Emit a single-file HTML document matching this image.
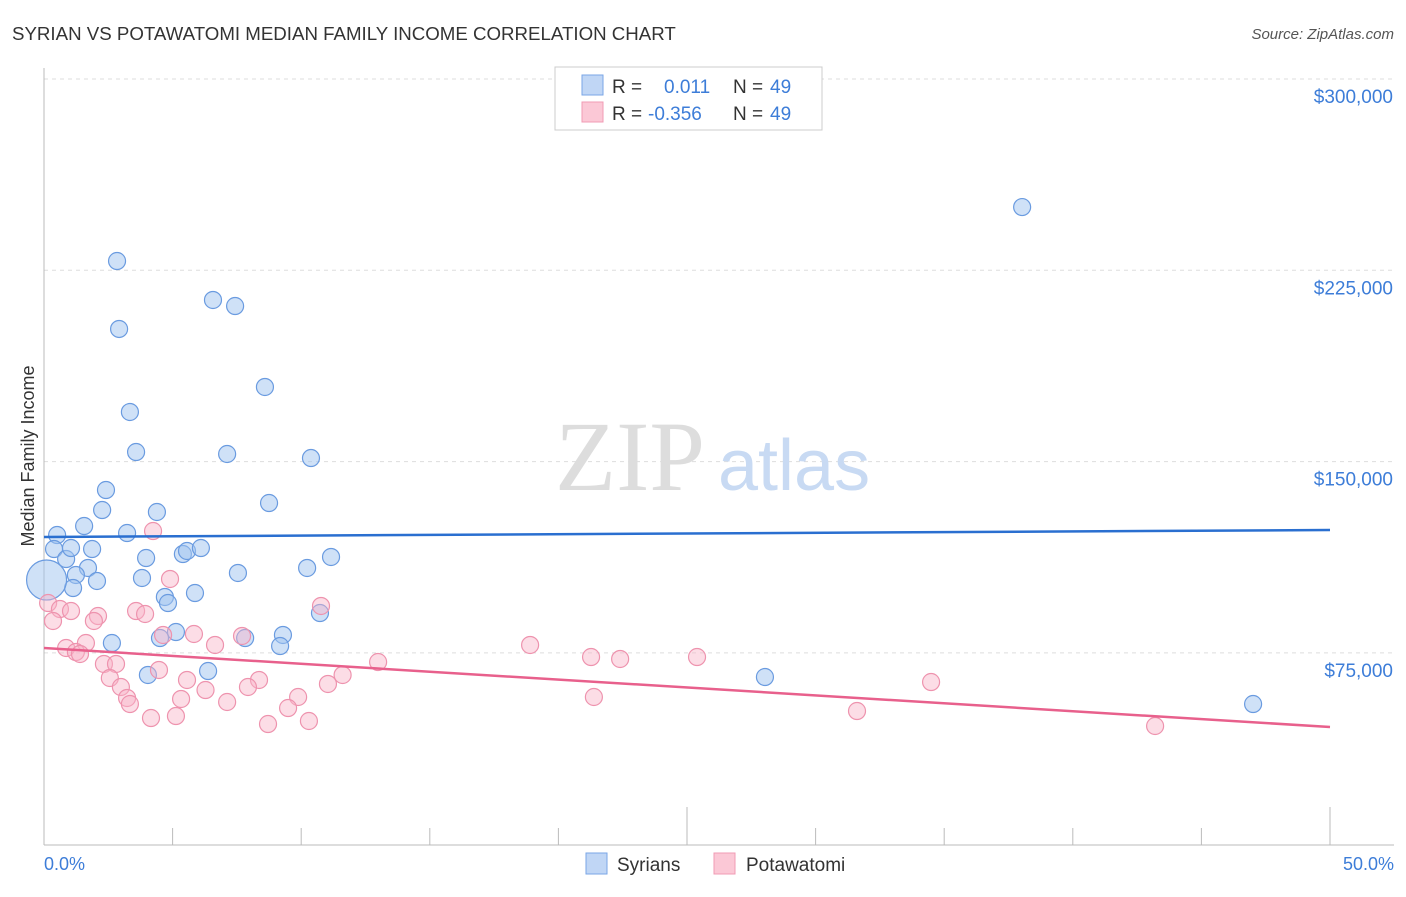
<!DOCTYPE html>
<html><head><meta charset="utf-8"><style>
body{margin:0;background:#fff;font-family:"Liberation Sans",sans-serif}
svg text{font-family:"Liberation Sans",sans-serif}
</style></head><body>
<svg width="1406" height="892" viewBox="0 0 1406 892">
<text x="12" y="40" font-size="18.7" fill="#333">SYRIAN VS POTAWATOMI MEDIAN FAMILY INCOME CORRELATION CHART</text>
<text x="1394" y="39" font-size="15" fill="#555" text-anchor="end" font-style="italic">Source: ZipAtlas.com</text>
<g id="grid"></g>
<g id="axes"></g>
<text x="555" y="490" font-size="100" fill="#ddd" style="font-family:'Liberation Serif',serif">ZIP</text>
<text x="718" y="490" font-size="72" fill="#c8daf3">atlas</text>
<g id="pts"></g>
<g id="lines"></g>
<text transform="translate(34,456) rotate(-90)" font-size="18" fill="#333" text-anchor="middle">Median Family Income</text>
<text x="44" y="870" font-size="18" fill="#3d7dd8">0.0%</text>
<text x="1394" y="870" font-size="18" fill="#3d7dd8" text-anchor="end">50.0%</text>
<g>
<rect x="555" y="67" width="267" height="63" fill="#fff" stroke="#ccc"/>
<rect x="582" y="75" width="21" height="20" fill="#c0d6f5" stroke="#7aa6e6"/>
<rect x="582" y="102" width="21" height="20" fill="#fbc8d6" stroke="#f09bb4"/>
<text x="612" y="93" font-size="19" fill="#333">R = </text><text x="664" y="93" font-size="19" fill="#3d7dd8">0.011</text>
<text x="733" y="93" font-size="19" fill="#333">N = </text><text x="770" y="93" font-size="19" fill="#3d7dd8">49</text>
<text x="612" y="120" font-size="19" fill="#333">R = </text><text x="648" y="120" font-size="19" fill="#3d7dd8">-0.356</text>
<text x="733" y="120" font-size="19" fill="#333">N = </text><text x="770" y="120" font-size="19" fill="#3d7dd8">49</text>
</g>
<g>
<rect x="586" y="853" width="21" height="21" fill="#c0d6f5" stroke="#7aa6e6"/>
<text x="617" y="871" font-size="19" fill="#333">Syrians</text>
<rect x="714" y="853" width="21" height="21" fill="#fbc8d6" stroke="#f09bb4"/>
<text x="746" y="871" font-size="19" fill="#333">Potawatomi</text>
</g>
</svg>
<script>
const yTicks=[75000,150000,225000,300000];
const yTickLabels=["$75,000","$150,000","$225,000","$300,000"];
const blueX=[2.84,2.92,6.57,7.43,38.03,8.59,3.34,3.58,7.12,10.38,2.41,8.75,2.26,4.39,1.56,0.51,3.23,0.39,1.87,0.86,3.97,5.40,5.56,6.10,11.16,1.71,1.24,3.81,7.54,10.23,2.06,1.13,5.87,4.70,4.82,10.73,5.13,4.51,9.29,7.82,2.64,9.18,6.38,4.04,28.03,47.01,1.05,0.1];
const blueY=[228640,202000,213360,211000,249800,179250,169450,153760,152980,151400,138860,133760,131020,130240,124750,121220,122000,115730,115730,111810,112200,113770,114950,116120,112600,108290,105550,104370,106330,108290,103190,100440,98480,96920,94560,90640,83190,80840,82020,80840,78880,77700,67900,66340,65550,54960,116120,103580];
const pinkX=[4.24,4.90,0.16,0.62,1.05,2.10,3.58,3.93,10.77,0.35,1.94,5.83,4.63,7.70,6.65,1.63,0.86,1.24,1.40,18.90,21.27,22.40,25.39,12.99,2.33,2.80,4.47,2.56,11.61,8.36,5.56,11.04,34.49,2.99,7.93,6.28,3.23,5.33,9.88,21.38,3.34,7.12,9.49,31.61,4.16,5.13,8.71,10.30,43.20];
const pinkY=[122790,103980,94560,92210,91420,89460,91420,90250,93390,87510,87510,82410,82020,81630,78100,78880,76920,75350,74570,78100,73390,72610,73390,71430,70650,70650,68300,65160,66340,64380,64380,62810,63590,61630,61630,60450,57320,56930,57710,57710,54960,55750,53390,52220,49470,50250,47120,48300,46340];
const blueTrend=[120440,123180];
const pinkTrend=[76920,45950];
const X=p=>44+p/50*1286, Y=v=>79+(300000-v)/75000*191.3;
const NS="http://www.w3.org/2000/svg";
function mk(t,a,parent){const e=document.createElementNS(NS,t);for(const k in a)e.setAttribute(k,a[k]);parent.appendChild(e);return e;}
const grid=document.getElementById('grid');
yTicks.forEach((v,i)=>{
 const l=mk('line',{x1:44,x2:1394,y1:Y(v),y2:Y(v),stroke:'#ddd','stroke-dasharray':'4,4'},grid);
 
 
 const t=mk('text',{x:1393,y:Y(v)+24,'font-size':19,fill:'#3d7dd8','text-anchor':'end'},grid);
 t.textContent=yTickLabels[i];
 
 
});
const ax=document.getElementById('axes');
const a1=mk('line',{x1:44,x2:44,y1:68,y2:845,stroke:'#bbb'},ax);


const a2=mk('line',{x1:44,x2:1394,y1:845,y2:845,stroke:'#bbb'},ax);


for(let p=0;p<=50;p+=5){const t=mk('line',{x1:X(p),x2:X(p),y1:p%25==0?807:828,y2:845,stroke:'#bbb'},ax);
 
 }
const pts=document.getElementById('pts');
blueX.forEach((x,i)=>{const c=mk('circle',{cx:X(x),cy:Y(blueY[i]),r:i==blueX.length-1?20:8.5,fill:'rgba(160,195,240,0.5)',stroke:'#6a9be0','stroke-width':1.2},pts);
 
 });
pinkX.forEach((x,i)=>{const c=mk('circle',{cx:X(x),cy:Y(pinkY[i]),r:8.5,fill:'rgba(248,180,200,0.45)',stroke:'#ee93ae','stroke-width':1.2},pts);
 
 });
const lg=document.getElementById('lines');
const b=mk('line',{x1:X(0),x2:X(50),y1:Y(blueTrend[0]),y2:Y(blueTrend[1]),stroke:'#2a6fd0','stroke-width':2.5},lg);


const p=mk('line',{x1:X(0),x2:X(50),y1:Y(pinkTrend[0]),y2:Y(pinkTrend[1]),stroke:'#e8608c','stroke-width':2.5},lg);


</script>
</body></html>
